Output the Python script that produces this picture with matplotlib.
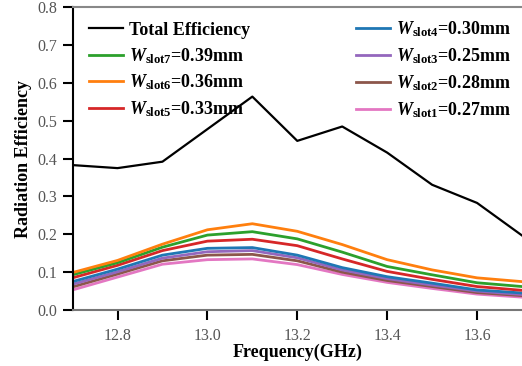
import matplotlib
matplotlib.use("Agg")
import matplotlib.pyplot as plt

plt.rcParams["font.family"] = "Liberation Serif"
plt.rcParams["mathtext.fontset"] = "custom"
plt.rcParams["mathtext.rm"] = "Liberation Serif:bold"
plt.rcParams["mathtext.it"] = "Liberation Serif:bold:italic"
plt.rcParams["mathtext.bf"] = "Liberation Serif:bold"

# data
freq = [12.7, 12.8, 12.9, 13.0, 13.1, 13.2, 13.3, 13.4, 13.5, 13.6, 13.7]
total_eff = [0.383, 0.375, 0.392, 0.478, 0.564, 0.447, 0.485, 0.416, 0.331, 0.283, 0.197]
slot7 = [0.093, 0.125, 0.166, 0.198, 0.207, 0.188, 0.153, 0.115, 0.093, 0.072, 0.062]
slot6 = [0.099, 0.131, 0.174, 0.212, 0.228, 0.208, 0.173, 0.133, 0.106, 0.085, 0.075]
slot5 = [0.085, 0.118, 0.157, 0.182, 0.187, 0.170, 0.135, 0.102, 0.081, 0.062, 0.052]
slot4 = [0.075, 0.108, 0.145, 0.163, 0.165, 0.145, 0.112, 0.088, 0.071, 0.053, 0.045]
slot3 = [0.068, 0.101, 0.137, 0.154, 0.157, 0.138, 0.106, 0.083, 0.066, 0.050, 0.041]
slot2 = [0.061, 0.095, 0.130, 0.145, 0.147, 0.130, 0.100, 0.078, 0.062, 0.046, 0.038]
slot1 = [0.053, 0.087, 0.121, 0.133, 0.135, 0.120, 0.094, 0.073, 0.057, 0.042, 0.034]

labels = ["Total Efficiency",
          r"$W_{\mathrm{slot7}}$=0.39mm", r"$W_{\mathrm{slot6}}$=0.36mm",
          r"$W_{\mathrm{slot5}}$=0.33mm", r"$W_{\mathrm{slot4}}$=0.30mm",
          r"$W_{\mathrm{slot3}}$=0.25mm", r"$W_{\mathrm{slot2}}$=0.28mm",
          r"$W_{\mathrm{slot1}}$=0.27mm"]
colors = ["black", "#2ca02c", "#ff7f0e", "#d62728", "#1f77b4",
          "#9467bd", "#8c564b", "#e377c2"]
series = [total_eff, slot7, slot6, slot5, slot4, slot3, slot2, slot1]

fig = plt.figure(figsize=(5.22, 3.66), dpi=100)
ax = fig.add_axes([0.139, 0.153, 0.861, 0.827])

handles = [None] * 8
# draw lower curves first so upper ones sit on top
for i in [7, 6, 5, 4, 3, 1, 2, 0]:
    lw = 1.6 if i == 0 else 2.0
    h, = ax.plot(freq, series[i], color=colors[i], lw=lw, label=labels[i])
    handles[i] = h

ax.set_xlim(12.7, 13.7)
ax.set_ylim(0, 0.8)
ax.set_xticks([12.8, 13.0, 13.2, 13.4, 13.6])
ax.set_xticklabels(["12.8", "13.0", "13.2", "13.4", "13.6"])
ax.set_yticks([0.0, 0.1, 0.2, 0.3, 0.4, 0.5, 0.6, 0.7, 0.8])
ax.set_yticklabels(["0.0", "0.1", "0.2", "0.3", "0.4", "0.5", "0.6", "0.7", "0.8"])
ax.tick_params(direction="out", length=7, width=1.5, labelsize=11.5,
               labelcolor="#555555", color="black")
ax.tick_params(axis="x", pad=6)
ax.tick_params(axis="y", pad=4)

ax.spines["right"].set_visible(False)
ax.spines["left"].set_color("black")
ax.spines["left"].set_linewidth(1.5)
ax.spines["bottom"].set_color("#777777")
ax.spines["bottom"].set_linewidth(1.5)
ax.spines["top"].set_color("#888888")
ax.spines["top"].set_linewidth(1.5)

ax.set_xlabel("Frequency(GHz)", fontsize=13, fontweight="bold", labelpad=0)
ax.set_ylabel("Radiation Efficiency", fontsize=13, fontweight="bold", labelpad=4)

leg = ax.legend(handles, labels, ncol=2, loc="upper left",
                bbox_to_anchor=(0.0, 1.013), frameon=False,
                prop={"weight": "bold", "size": 13},
                handlelength=1.9, handletextpad=0.3, columnspacing=5.9,
                labelspacing=0.4)

fig.savefig("out.png", dpi=100)
